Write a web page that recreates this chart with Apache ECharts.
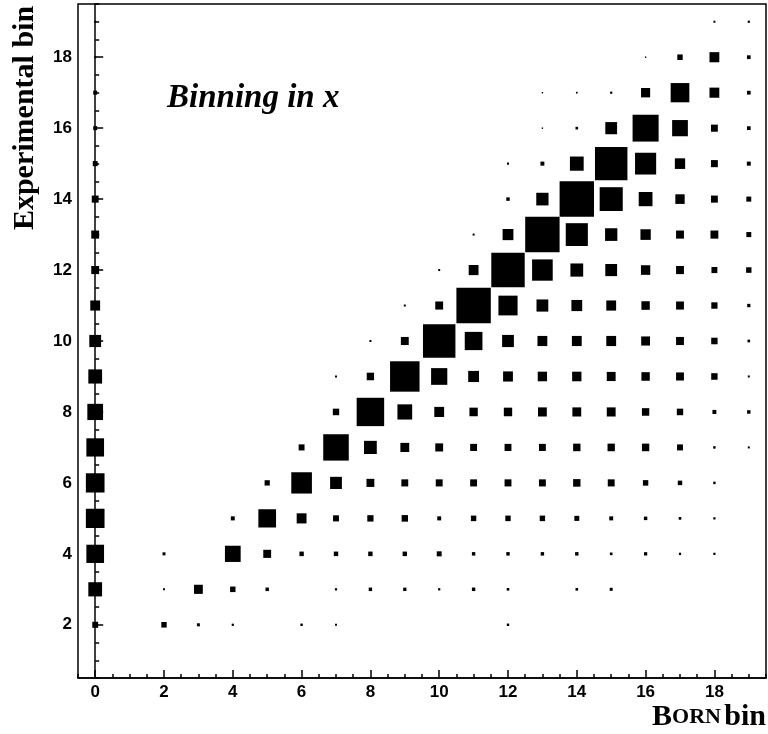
<!DOCTYPE html>
<html><head><meta charset="utf-8">
<script src="https://cdn.jsdelivr.net/npm/echarts@6/dist/echarts.min.js"></script>
<style>html,body{margin:0;padding:0;background:#fff}#c{width:768px;height:734px}</style>
</head><body><div id="c"></div>
<script>
// Born bin (x) and experimental bin (y) indices
const bornBins = [0,1,2,3,4,5,6,7,8,9,10,11,12,13,14,15,16,17,18,19];
const expBins  = [1,2,3,4,5,6,7,8,9,10,11,12,13,14,15,16,17,18,19];
const xTickLabels = [0,2,4,6,8,10,12,14,16,18];
const yTickLabels = [2,4,6,8,10,12,14,16,18];
const xTitle = 'Born bin';
const yTitle = 'Experimental bin';
const note = 'Binning in x';

// Migration counts (box area ∝ content), one row per experimental bin, columns = Born bin 0..19
const row01 = [0,0,0,0,0,0,0,0,0,0,0,0,0,0,0,0,0,0,0,0];
const row02 = [36,0,30,9,5,0,6,4,0,0,0,0,6,0,0,0,0,0,0,0];
const row03 = [196,0,4,81,30,12,0,5,12,11,5,12,7,0,7,9,0,0,0,0];
const row04 = [324,0,9,0,256,64,20,20,20,20,25,12,12,12,12,7,11,5,5,0];
const row05 = [361,0,0,0,16,324,100,36,40,42,16,30,30,30,25,16,12,7,5,0];
const row06 = [361,0,0,0,0,28,441,144,64,49,49,49,49,49,56,49,30,20,6,0];
const row07 = [324,0,0,0,0,0,36,676,169,81,64,49,49,49,56,56,56,36,6,4];
const row08 = [256,0,0,0,0,0,0,42,784,225,100,72,72,81,81,81,56,42,16,12];
const row09 = [196,0,0,0,0,0,0,4,56,900,272,121,100,90,90,81,72,64,42,4];
const row10 = [144,0,0,0,0,0,0,0,4,64,1089,324,144,100,100,100,81,64,42,7];
const row11 = [100,0,0,0,0,0,0,0,0,4,64,1225,380,144,121,100,72,64,40,11];
const row12 = [64,0,0,0,0,0,0,0,0,0,4,100,1156,441,169,144,90,64,36,30];
const row13 = [64,0,0,0,0,0,0,0,0,0,0,4,121,1225,506,156,110,64,64,25];
const row14 = [49,0,0,0,0,0,0,0,0,0,0,0,12,156,1225,552,196,90,49,25];
const row15 = [25,0,0,0,0,0,0,0,0,0,0,0,4,16,196,1089,462,110,49,16];
const row16 = [16,0,0,0,0,0,0,0,0,0,0,0,0,2,7,144,702,256,49,14];
const row17 = [16,0,0,0,0,0,0,0,0,0,0,0,0,2,3,5,86,361,100,14];
const row18 = [4,0,0,0,0,0,0,0,0,0,0,0,0,0,0,0,2,30,100,14];
const row19 = [4,0,0,0,0,0,0,0,0,0,0,0,0,0,0,0,0,0,4,5];

const rows = [row01,row02,row03,row04,row05,row06,row07,row08,row09,row10,
              row11,row12,row13,row14,row15,row16,row17,row18,row19];
const cells = [];
rows.forEach((r, k) => r.forEach((v, i) => { if (v > 0) cells.push([bornBins[i], expBins[k], v]); }));
const vmax = Math.max(...cells.map(c => c[2]));

// minor tick positions every half bin
const xMinor = []; for (let t = -0.5; t <= 19.5001; t += 0.5) xMinor.push(+t.toFixed(1));
const yMinor = []; for (let t = 0.5; t <= 19.5001; t += 0.5) yMinor.push(+t.toFixed(1));

const chart = echarts.init(document.getElementById('c'), null, {renderer: 'canvas'});
const lab = {color: '#000', fontFamily: 'Liberation Sans', fontWeight: 'bold', fontSize: 17};
const tickStyle = {color: '#000', width: 1.5};
chart.setOption({
  animation: false,
  backgroundColor: '#fff',
  grid: {left: 78, right: 2, top: 4, bottom: 56, show: true, borderColor: '#000', borderWidth: 1.5, backgroundColor: 'transparent'},
  xAxis: [
    {type: 'value', min: -0.5, max: 19.5, position: 'bottom',
     axisLine: {show: true, lineStyle: {color: '#000', width: 1.5}},
     axisTick: {show: true, inside: true, length: 8, customValues: xTickLabels, lineStyle: tickStyle},
     axisLabel: Object.assign({customValues: xTickLabels, margin: 6}, lab),
     splitLine: {show: false}},
    {type: 'value', min: -0.5, max: 19.5, position: 'bottom',
     axisLine: {show: false},
     axisTick: {show: true, inside: true, length: 4, customValues: xMinor, lineStyle: tickStyle},
     axisLabel: {show: false}, splitLine: {show: false}}
  ],
  yAxis: [
    {type: 'value', min: 0.5, max: 19.5, position: 'left',
     axisLine: {show: true, lineStyle: {color: '#000', width: 1.5}},
     axisTick: {show: true, inside: true, length: 8, customValues: yTickLabels, lineStyle: tickStyle},
     axisLabel: Object.assign({customValues: yTickLabels, margin: 6}, lab),
     splitLine: {show: false}},
    {type: 'value', min: 0.5, max: 19.5, position: 'left',
     axisLine: {show: false},
     axisTick: {show: true, inside: true, length: 4, customValues: yMinor, lineStyle: tickStyle},
     axisLabel: {show: false}, splitLine: {show: false}}
  ],
  series: [{
    type: 'custom', xAxisIndex: 0, yAxisIndex: 0, data: cells,
    renderItem: function (params, api) {
      const c = api.coord([api.value(0), api.value(1)]);
      const s = api.size([1, 1]);
      const r = Math.sqrt(api.value(2) / vmax);
      const w = s[0] * r, h = s[1] * r;
      return {type: 'rect', shape: {x: c[0] - w / 2, y: c[1] - h / 2, width: w, height: h},
              style: {fill: '#000'}};
    }
  }],
  graphic: [
    {type: 'text', left: 167, top: 82, style: {text: note, fill: '#000',
      font: 'italic bold 33px "Liberation Serif"'}},
    {type: 'text', right: 2, top: 702, style: {
      text: '{a|B}{b|ORN} {a|bin}',
      rich: {a: {fontFamily: 'Liberation Serif', fontWeight: 'bold', fontSize: 30, fill: '#000'},
             b: {fontFamily: 'Liberation Serif', fontWeight: 'bold', fontSize: 22, fill: '#000'}}}},
    {type: 'text', x: 10, y: 118, rotation: Math.PI / 2,
     style: {text: yTitle, fill: '#000', font: 'bold 30px "Liberation Serif"',
             textAlign: 'center', textVerticalAlign: 'top'}}
  ]
});
</script></body></html>
